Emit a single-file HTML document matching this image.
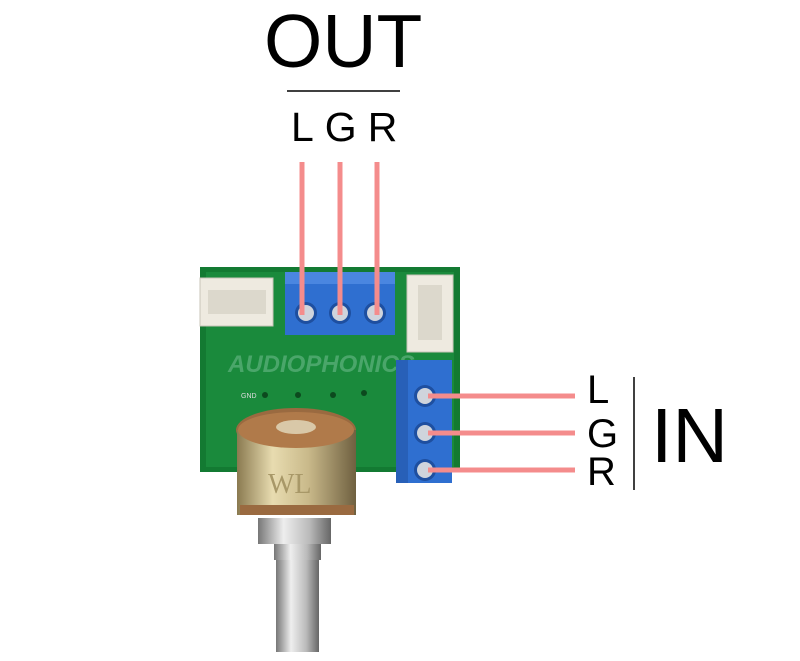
<!DOCTYPE html>
<html><head><style>
body{margin:0;width:800px;height:661px;background:#fff;position:relative;overflow:hidden;font-family:"Liberation Sans",Arial,sans-serif}
.t{position:absolute;line-height:1;color:#000;white-space:nowrap}
</style></head><body>
<svg width="800" height="661" style="position:absolute;left:0;top:0">
<defs>
<linearGradient id="brass" x1="0" x2="1"><stop offset="0" stop-color="#8a7a50"/><stop offset="0.3" stop-color="#e8dcb0"/><stop offset="0.6" stop-color="#c9b98a"/><stop offset="1" stop-color="#6f6040"/></linearGradient>
<linearGradient id="steel" x1="0" x2="1"><stop offset="0" stop-color="#777"/><stop offset="0.35" stop-color="#eee"/><stop offset="0.7" stop-color="#bbb"/><stop offset="1" stop-color="#666"/></linearGradient>
</defs>
<rect x="200" y="267" width="260" height="205" fill="#137a32"/>
<rect x="206" y="272" width="248" height="195" fill="#1a8a3c"/>
<text x="228" y="372" font-family="Liberation Sans" font-style="italic" font-weight="bold" font-size="24" fill="#4aa66a">AUDIOPHONICS</text>
<text x="241" y="398" font-family="Liberation Sans" font-size="7" fill="#ddd">GND</text>
<circle cx="265" cy="395" r="3" fill="#0c4a1e"/><circle cx="298" cy="395" r="3" fill="#0c4a1e"/><circle cx="333" cy="395" r="3" fill="#0c4a1e"/><circle cx="364" cy="393" r="3" fill="#0c4a1e"/>
<rect x="200" y="278" width="73" height="48" fill="#eeeae0" stroke="#c8c4b8"/>
<rect x="208" y="290" width="58" height="24" fill="#dcd8cc"/>
<rect x="407" y="275" width="46" height="77" fill="#eeeae0" stroke="#c8c4b8"/>
<rect x="418" y="285" width="24" height="55" fill="#dcd8cc"/>
<rect x="285" y="272" width="110" height="63" fill="#2f6fd0"/>
<rect x="285" y="272" width="110" height="12" fill="#4a86e0"/>
<circle cx="306" cy="313" r="11" fill="#1e4fa0"/><circle cx="306" cy="313" r="8" fill="#cfd4dc"/>
<circle cx="340" cy="313" r="11" fill="#1e4fa0"/><circle cx="340" cy="313" r="8" fill="#cfd4dc"/>
<circle cx="375" cy="313" r="11" fill="#1e4fa0"/><circle cx="375" cy="313" r="8" fill="#cfd4dc"/>
<rect x="396" y="360" width="56" height="123" fill="#2f6fd0"/>
<rect x="396" y="360" width="12" height="123" fill="#2860b8"/>
<circle cx="425" cy="396" r="11" fill="#1e4fa0"/><circle cx="425" cy="396" r="8" fill="#cfd4dc"/>
<circle cx="425" cy="433" r="11" fill="#1e4fa0"/><circle cx="425" cy="433" r="8" fill="#cfd4dc"/>
<circle cx="425" cy="470" r="11" fill="#1e4fa0"/><circle cx="425" cy="470" r="8" fill="#cfd4dc"/>
<rect x="276" y="555" width="43" height="97" fill="url(#steel)"/>
<rect x="274" y="540" width="47" height="20" fill="url(#steel)"/>
<rect x="258" y="518" width="73" height="26" fill="url(#steel)"/>
<rect x="243" y="485" width="6" height="30" fill="#999"/>
<ellipse cx="296" cy="430" rx="60" ry="22" fill="#9a6a40"/>
<rect x="237" y="430" width="119" height="85" fill="url(#brass)"/>
<ellipse cx="296" cy="430" rx="58" ry="18" fill="#b07a4a"/>
<ellipse cx="296" cy="427" rx="20" ry="7" fill="#d9c8a8"/>
<rect x="240" y="505" width="114" height="10" fill="#9a6a40"/>
<text x="268" y="493" font-family="Liberation Serif" font-size="28" fill="#a89868">WL</text>
<g stroke="#f48c8c" stroke-width="5">
<line x1="302" y1="162" x2="302" y2="315"/>
<line x1="340" y1="162" x2="340" y2="315"/>
<line x1="377" y1="162" x2="377" y2="315"/>
<line x1="428" y1="396" x2="575" y2="396"/>
<line x1="428" y1="433" x2="575" y2="433"/>
<line x1="428" y1="470" x2="575" y2="470"/>
</g>
<line x1="287" y1="91" x2="400" y2="91" stroke="#000" stroke-width="1.5"/>
<line x1="634" y1="377" x2="634" y2="490" stroke="#000" stroke-width="1.5"/>
</svg>
<div class="t" style="left:264px;top:4px;font-size:75px">OUT</div>
<div class="t" style="left:291px;top:107px;font-size:41px;letter-spacing:11px">LGR</div>
<div class="t" style="left:587px;top:370px;font-size:40px">L</div>
<div class="t" style="left:587px;top:414px;font-size:40px">G</div>
<div class="t" style="left:587px;top:452px;font-size:40px">R</div>
<div class="t" style="left:651px;top:398px;font-size:77px">IN</div>
</body></html>
